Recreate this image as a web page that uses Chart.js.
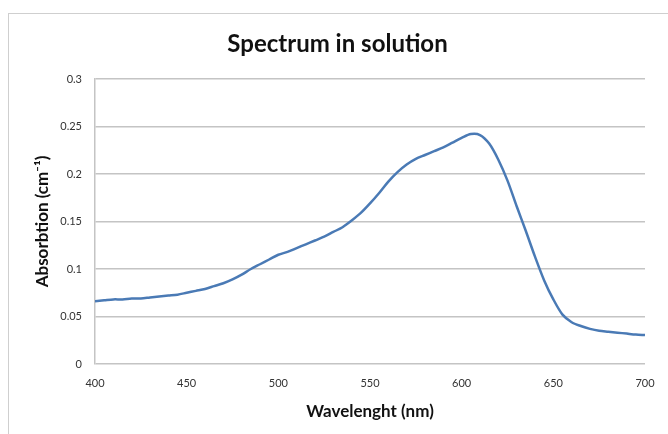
<!DOCTYPE html>
<html>
<head>
<meta charset="utf-8">
<script src="https://cdn.jsdelivr.net/npm/chart.js@4.4.1/dist/chart.umd.min.js"></script>
<style>
  body { margin: 0; background: #fff; }
  #frame { position: absolute; left: 8px; top: 13px; width: 670px; height: 440px; border: 1px solid #cfcfcf; border-right: none; border-bottom: none; }
  #chart { position: absolute; left: 0; top: 0; }
</style>
</head>
<body>
<div id="frame"></div>
<canvas id="chart" width="668" height="434"></canvas>
<script>
// wavelengths (nm), read every 5 nm
const wavelengths = [400,405,410,415,420,425,430,435,440,445,450,455,460,465,470,475,480,485,490,495,
  500,505,510,515,520,525,530,535,540,545,550,555,560,565,570,575,580,585,590,595,
  600,605,610,615,620,625,630,635,640,645,650,655,660,665,670,675,680,685,690,695,700];
// absorption (cm-1)
const absorption = [0.066,0.067,0.068,0.068,0.069,0.069,0.070,0.071,0.072,0.073,0.075,0.077,0.079,0.082,0.085,0.089,0.094,0.100,0.105,0.110,
  0.115,0.118,0.122,0.126,0.130,0.134,0.139,0.144,0.151,0.159,0.169,0.180,0.192,0.202,0.210,0.216,0.220,0.224,0.228,0.233,
  0.238,0.242,0.241,0.232,0.215,0.193,0.166,0.140,0.113,0.088,0.068,0.052,0.044,0.040,0.037,0.035,0.034,0.033,0.032,0.031,0.0305];
const xTicks = [400, 450, 500, 550, 600, 650, 700];
const yTicks = [0, 0.05, 0.1, 0.15, 0.2, 0.25, 0.3];

const points = wavelengths.map((w, i) => ({ x: w, y: absorption[i] }));
const font = "Lato, 'Open Sans', sans-serif";

new Chart(document.getElementById("chart"), {
  type: 'scatter',
  data: {
    datasets: [{
      data: points,
      showLine: true,
      borderColor: '#4a7ab5',
      backgroundColor: '#4a7ab5',
      borderWidth: 2.5,
      pointRadius: 0,
      tension: 0.3
    }]
  },
  options: {
    responsive: false,
    animation: false,
    devicePixelRatio: 1,
    layout: { padding: { left: 30, right: 23, top: 0, bottom: 0 } },
    plugins: {
      legend: { display: false },
      tooltip: { enabled: false },
      title: {
        display: true,
        text: 'Spectrum in solution',
        color: '#111',
        font: { family: font, size: 24, weight: 'bold', lineHeight: 1.2 },
        padding: { top: 30, bottom: 20.2 }
      }
    },
    scales: {
      x: {
        type: 'linear',
        min: 400, max: 700,
        afterBuildTicks: s => { s.ticks = xTicks.map(v => ({ value: v })); },
        afterFit: s => { s.height = 70; },
        grid: { display: false, drawTicks: false },
        border: { display: false },
        ticks: { color: '#333', font: { family: font, size: 11 }, padding: 13, maxRotation: 0 },
        title: {
          display: true,
          text: 'Wavelenght (nm)',
          color: '#111',
          font: { family: font, size: 17, weight: 'bold', lineHeight: 1.2 },
          padding: { top: 4, bottom: 12 }
        }
      },
      y: {
        min: 0, max: 0.3,
        afterBuildTicks: s => { s.ticks = yTicks.map(v => ({ value: v })); },
        afterFit: s => { s.width = 65; },
        grid: { color: '#c4c4c4', lineWidth: 1.5, drawTicks: false },
        border: { display: true, color: '#c4c4c4', width: 1.5 },
        ticks: {
          color: '#333', font: { family: font, size: 11 }, padding: 13,
          callback: v => String(+v.toFixed(2))
        },
        title: {
          display: true,
          text: 'Absorbtion (cm⁻¹)',
          color: '#111',
          font: { family: font, size: 17, weight: 'bold', lineHeight: 1.2 },
          padding: { top: 2, bottom: 0 }
        }
      }
    }
  }
});
</script>
</body>
</html>
